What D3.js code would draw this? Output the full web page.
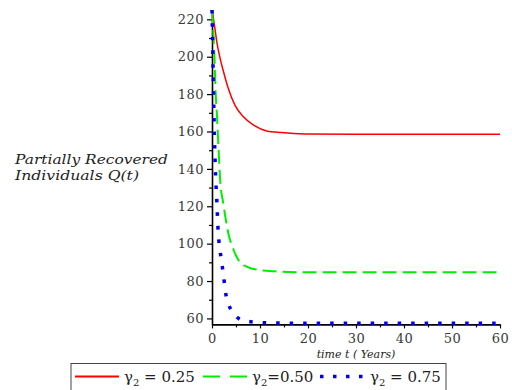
<!DOCTYPE html>
<html>
<head>
<meta charset="utf-8">
<script src="https://cdn.jsdelivr.net/npm/d3@7"></script>
<style>
  body { margin: 0; background: #fff; }
  svg { display: block; }
</style>
</head>
<body>
<script>
// valores
const tRed   = [0, 0.5, 1, 1.7, 2.4, 3.4, 4.8, 6.5, 8.6, 11.4, 14.5, 19.4, 30, 40, 50, 60];
const qRed   = [225, 217, 208, 199, 192, 183, 174, 168, 163.5, 160.3, 159.4, 158.7, 158.5, 158.5, 158.5, 158.5];

const tGreen = [0, 0.25, 0.5, 0.77, 1, 1.46, 1.7, 2.35, 3.4, 4.5, 5.5, 7.2, 9.6, 13, 20, 30, 40, 50, 60];
const qGreen = [225, 214, 201, 180, 170, 146, 134, 121.6, 105.6, 96.6, 91.3, 87.7, 86, 85.2, 84.7, 84.7, 84.7, 84.7, 84.7];

const tBlue  = [0, 0.1, 0.25, 0.5, 0.77, 1, 1.3, 1.7, 2.35, 2.85, 3.4, 4.5, 6.5, 9.2, 12, 20, 30, 40, 50, 60];
const qBlue  = [225, 212, 190, 158, 135, 123, 106, 96, 84, 73.5, 68, 62.8, 58.8, 58, 57.6, 57.4, 57.4, 57.4, 57.4, 57.4];

const xTicks = [0, 10, 20, 30, 40, 50, 60];
const yTicks = [60, 80, 100, 120, 140, 160, 180, 200, 220];
const legendLabels = ["0.25", "0.50", "0.75"];

const WIDTH = 512, HEIGHT = 390;
const serif = "DejaVu Serif";

let svg = d3.select("body").append("svg")
            .attr("width", WIDTH)
            .attr("height", HEIGHT);

let x = d3.scaleLinear().domain([0, 60]).range([212, 500]);
let y = d3.scaleLinear().domain([56.8, 225]).range([324.4, 10]);

// ejes con ticks menores
svg.append("g")
    .attr("transform", "translate(212,0)")
    .call(d3.axisLeft(y).tickValues(d3.range(70, 225, 20)).tickSize(3).tickFormat(""))
    .call(g => g.select(".domain").remove());
svg.append("g")
    .attr("transform", "translate(0,324.4)")
    .call(d3.axisBottom(x).tickValues(d3.range(5, 60, 10)).tickSize(3).tickFormat(""))
    .call(g => g.select(".domain").remove());

let yAxis = svg.append("g")
    .attr("transform", "translate(212,0)")
    .call(d3.axisLeft(y).tickValues(yTicks).tickSize(5).tickSizeOuter(0).tickPadding(3));
let xAxis = svg.append("g")
    .attr("transform", "translate(0,324.4)")
    .call(d3.axisBottom(x).tickValues(xTicks).tickSize(4).tickSizeOuter(0).tickPadding(5));

svg.selectAll(".domain").attr("stroke-width", 1.6);
svg.selectAll(".tick line").attr("stroke-width", 1.2);
svg.selectAll(".tick text")
    .attr("font-family", serif)
    .attr("font-size", 13)
    .attr("letter-spacing", 0.5)
    .attr("fill", "#3a3a3a");

// curvas
let line = d3.line().x(d => x(d[0])).y(d => y(d[1])).curve(d3.curveMonotoneX);

const series = [
    {t: tRed,   q: qRed,   color: "#ff0000", width: 1.5, dash: null},
    {t: tGreen, q: qGreen, color: "#00ee00", width: 2,   dash: "14 6"},
    {t: tBlue,  q: qBlue,  color: "#0000ee", width: 3.5, dash: "3.5 10"}
];

series.forEach(s => {
    svg.append("path")
        .datum(s.t.map((t, i) => [t, s.q[i]]))
        .attr("fill", "none")
        .attr("stroke", s.color)
        .attr("stroke-width", s.width)
        .attr("stroke-dasharray", s.dash)
        .attr("d", line);
});

// titulos de ejes
svg.append("text")
    .attr("x", 15).attr("y", 164)
    .attr("font-family", serif).attr("font-style", "italic")
    .attr("font-size", 13).attr("fill", "#222")
    .attr("textLength", 153).attr("lengthAdjust", "spacingAndGlyphs")
    .text("Partially Recovered");
svg.append("text")
    .attr("x", 15).attr("y", 180)
    .attr("font-family", serif).attr("font-style", "italic")
    .attr("font-size", 13).attr("fill", "#222")
    .attr("textLength", 124).attr("lengthAdjust", "spacingAndGlyphs")
    .text("Individuals Q(t)");

svg.append("text")
    .attr("x", 356).attr("y", 358)
    .attr("text-anchor", "middle")
    .attr("font-family", serif).attr("font-style", "italic")
    .attr("font-size", 11).attr("fill", "#222")
    .text("time t  ( Years)");

// leyenda
svg.append("rect")
    .attr("x", 71).attr("y", 363.5)
    .attr("width", 375).attr("height", 40)
    .attr("fill", "none").attr("stroke", "#444").attr("stroke-width", 1);

const legendX = [75, 203, 320];
const legendTextX = [124, 252, 370];

series.forEach((s, i) => {
    svg.append("line")
        .attr("x1", legendX[i]).attr("x2", legendX[i] + 44)
        .attr("y1", 376.5).attr("y2", 376.5)
        .attr("stroke", s.color)
        .attr("stroke-width", i == 2 ? 3.5 : 2)
        .attr("stroke-dasharray", i == 0 ? null : (i == 1 ? "17 10" : "3.5 9.5"));

    let t = svg.append("text")
        .attr("x", legendTextX[i]).attr("y", 382)
        .attr("font-family", serif)
        .attr("font-size", 15).attr("fill", "#222");
    t.append("tspan").text("γ");
    t.append("tspan").attr("font-size", 10).attr("dy", 4).text("2");
    t.append("tspan").attr("dy", -4).text(i == 1 ? "=" + legendLabels[i] : " = " + legendLabels[i]);
});
</script>
</body>
</html>
